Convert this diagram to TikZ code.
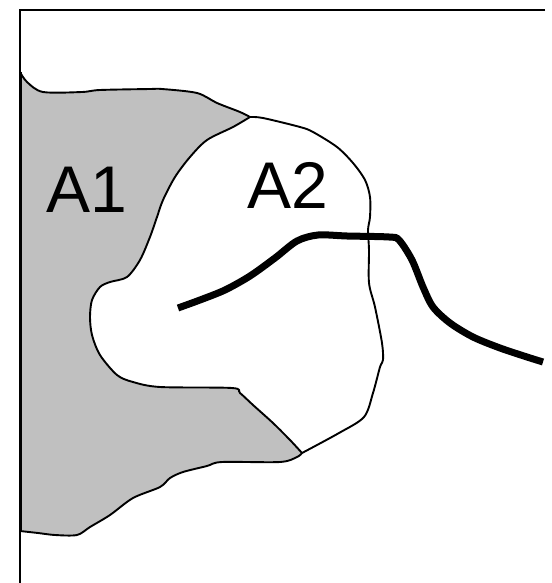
\documentclass[tikz,border=0pt]{standalone}
\usepackage{fontspec}
\setmainfont{Liberation Sans}
\definecolor{areagray}{RGB}{192,192,192}

\begin{document}
\begin{tikzpicture}[x=1pt,y=-1pt,
    outline/.style={line width=1.9pt, line join=round},
    river/.style={line width=7pt},
    areaname/.style={anchor=base west, inner sep=0pt, font=\fontsize{66}{66}\selectfont}]
    \useasboundingbox (0,0) rectangle (551,583);
    \coordinate (J1) at (250,117);
    \coordinate (J2) at (302,453);
    % frame
    \draw[line width=1.5pt] (545,10) -- (20,10) -- (20,583);
    % area A1
    \filldraw[fill=areagray, outline] (20,531) -- (20,72)
        -- plot[smooth] coordinates {(20,72) (27,82) (43,92) (82,92) (100,90) (150,89)
            (162,89) (197,93) (217,103) (240,112) (J1)}
        -- plot[smooth] coordinates {(J1) (233,127) (207,140) (190,157) (175,177) (163,200)
            (157,217) (150,237) (140,260) (127,277) (110,282) (100,287) (92,300) (90,317)
            (92,335) (100,355) (117,375) (133,382) (160,387) (232,388) (240,393) (253,405)
            (273,423) (290,440) (J2)}
        -- plot[smooth] coordinates {(J2) (297,457) (280,462) (222,462) (207,466) (183,472)
            (170,478) (160,487) (133,498) (110,515) (90,527) (77,535) (55,535) (38,533)
            (20,531)} -- cycle;
    \draw[line width=3pt] (20,72) -- (20,531);
    % area A2
    \draw[outline] plot[smooth] coordinates {(J1) (263,118) (300,127) (313,132) (337,147)
        (353,163) (365,180) (370,197) (370,217) (368,230) (369,250) (369,283) (375,307)
        (382,343) (383,360) (380,367) (373,393) (364,417) (339,433) (J2)};
    % river
    \draw[river] plot[smooth] coordinates {(178,308) (200,300) (225,290) (250,276)
        (275,258) (297,241) (318,235) (347,236) (389,237) (399,240) (412,260) (423,287)
        (433,307) (450,323) (473,337) (500,348) (527,357) (543,362)};
    \node[areaname] (A1) at (46,212) {A1};
    \node[areaname] (A2) at (247,208) {A2};
\end{tikzpicture}
\end{document}
